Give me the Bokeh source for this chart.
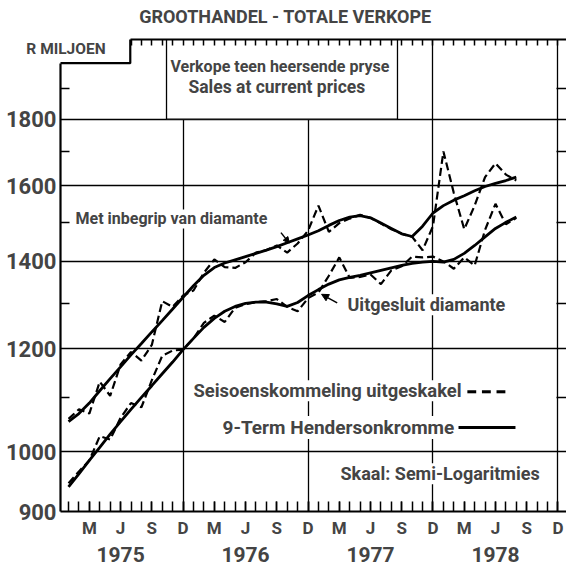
from bokeh.plotting import figure
from bokeh.models import (FixedTicker, LinearAxis, LogAxis, CustomJSTickFormatter, BasicTickFormatter,
                          Label, BoxAnnotation, Arrow, NormalHead, Range1d)
from bokeh.embed import file_html
from bokeh.resources import INLINE

# month index 0 = Jan 1975 ... 43 = Aug 1978
months = list(range(44))
upper_adj = [1060, 1078, 1070, 1132, 1104, 1167, 1193, 1175, 1208, 1305, 1292, 1318,
             1330, 1372, 1405, 1386, 1384, 1398, 1422, 1428, 1440, 1422, 1445, 1478,
             1545, 1475, 1498, 1510, 1520, 1512, 1497, 1482, 1470, 1462, 1428, 1490,
             1700, 1580, 1482, 1545, 1625, 1665, 1632, 1615]
upper_trend = [1055, 1070, 1090, 1114, 1138, 1162, 1187, 1211, 1236, 1261, 1287, 1314,
               1341, 1366, 1385, 1396, 1404, 1412, 1420, 1428, 1437, 1447, 1457, 1467,
               1478, 1492, 1505, 1514, 1518, 1512, 1498, 1484, 1470, 1463, 1490, 1525,
               1545, 1560, 1572, 1586, 1598, 1607, 1615, 1625]
lower_adj = [946, 966, 985, 1028, 1022, 1062, 1090, 1082, 1135, 1185, 1196, 1198,
             1222, 1256, 1272, 1258, 1290, 1298, 1303, 1305, 1310, 1292, 1282, 1312,
             1325, 1365, 1410, 1360, 1362, 1368, 1345, 1378, 1388, 1412, 1410, 1412,
             1400, 1382, 1410, 1390, 1480, 1550, 1495, 1512]
lower_trend = [940, 962, 985, 1008, 1032, 1055, 1078, 1101, 1124, 1148, 1172, 1198,
               1222, 1246, 1266, 1282, 1293, 1300, 1303, 1303, 1299, 1293, 1302, 1318,
               1332, 1345, 1355, 1361, 1366, 1372, 1378, 1384, 1390, 1395, 1398, 1400,
               1398, 1405, 1420, 1440, 1462, 1484, 1500, 1514]

month_letters = ["M", "J", "S", "D"]   # Maart, Junie, September, Desember
quarter_months = [2, 5, 8, 11]
years = ["1975", "1976", "1977", "1978"]
y_major = [900, 1000, 1200, 1400, 1600, 1800]
y_minor = [1100, 1300, 1500, 1700, 1900]
y_grid = [1000, 1200, 1400, 1600, 1800]

FONT = "Roboto"
X0, X1 = -0.77, 47.82
Y0, Y1 = 900, 2072
NOTCH_X, NOTCH_Y = 5.93, 1987

all_month_ticks = list(range(48))
top_month_ticks = [m for m in all_month_ticks if m > NOTCH_X]
quarter_ticks = [12 * k + q for k in range(4) for q in quarter_months]
dec_ticks = [12 * k + 11 for k in range(4)]
june_ticks = [12 * k + 5 for k in range(4)]

p = figure(width=566, height=565, y_axis_type="log",
           x_range=Range1d(X0, X1), y_range=Range1d(Y0, Y1),
           output_backend="svg", toolbar_location=None,
           min_border_left=60, min_border_right=0, min_border_top=38, min_border_bottom=54)
p.outline_line_color = None
p.background_fill_color = "white"

empty = CustomJSTickFormatter(code='return "";')

# --- axes ---
ya = p.yaxis[0]
ya.ticker = FixedTicker(ticks=y_major, minor_ticks=y_minor)
ya.formatter = BasicTickFormatter(use_scientific=False)
ya.bounds = (Y0, NOTCH_Y)
ya.major_tick_in = 0
ya.major_tick_out = 0
ya.minor_tick_in = 9
ya.minor_tick_out = 0
ya.minor_tick_line_width = 1.5
ya.axis_line_width = 2.2
ya.major_label_text_font = FONT
ya.major_label_text_font_style = "bold"
ya.major_label_text_font_size = "22px"
ya.major_label_standoff = 4

right = LogAxis(ticker=FixedTicker(ticks=[], minor_ticks=y_minor), formatter=empty,
                axis_line_color=None, major_tick_in=0, major_tick_out=0,
                minor_tick_in=10, minor_tick_out=0, minor_tick_line_width=1.5,
                major_label_standoff=0)
p.add_layout(right, "right")

xa = p.xaxis[0]
xa.ticker = FixedTicker(ticks=quarter_ticks, minor_ticks=all_month_ticks)
xa.formatter = CustomJSTickFormatter(args=dict(labels=month_letters, q=quarter_months), code="""
    const k = Math.round(tick) % 12;
    const i = q.indexOf(k);
    return i >= 0 ? labels[i] : "";
""")
xa.major_tick_in = 10
xa.major_tick_out = 0
xa.minor_tick_in = 10
xa.minor_tick_out = 0
xa.major_tick_line_width = 1.5
xa.minor_tick_line_width = 1.5
xa.axis_line_width = 2.2
xa.major_label_text_font = FONT
xa.major_label_text_font_style = "bold"
xa.major_label_text_font_size = "17px"
xa.major_label_standoff = 6

year_axis = LinearAxis(ticker=FixedTicker(ticks=june_ticks),
                       formatter=CustomJSTickFormatter(args=dict(years=years), code="""
    return years[Math.floor(Math.round(tick) / 12)] || "";
"""),
                       axis_line_color=None, major_tick_line_color=None, minor_tick_line_color=None,
                       major_label_standoff=0, major_label_text_font=FONT,
                       major_label_text_font_style="bold", major_label_text_font_size="21px")
p.add_layout(year_axis, "below")

top = LinearAxis(ticker=FixedTicker(ticks=top_month_ticks), bounds=(NOTCH_X, X1),
                 major_tick_in=6, major_tick_out=0, minor_tick_in=0, minor_tick_out=0,
                 axis_line_width=2.2, major_tick_line_width=1.5, major_label_standoff=0,
                 formatter=empty)
p.add_layout(top, "above")

# --- grid ---
p.ygrid.ticker = FixedTicker(ticks=y_grid)
p.xgrid.ticker = FixedTicker(ticks=dec_ticks)
for g in (p.xgrid[0], p.ygrid[0]):
    g.grid_line_color = "black"
    g.grid_line_width = 1.3
    g.grid_line_alpha = 1.0

# --- notch at the top-left corner of the frame ---
p.add_layout(BoxAnnotation(left=-20, right=NOTCH_X, bottom=NOTCH_Y, top=5000,
                           fill_color="white", fill_alpha=1.0,
                           line_color="black", line_alpha=1.0, line_width=2.2, level="underlay"))
# --- box round the heading "Verkope teen heersende pryse" ---
p.add_layout(BoxAnnotation(left=9.41, right=31.59, bottom=1800, top=5000,
                           fill_color="white", fill_alpha=1.0,
                           line_color="black", line_alpha=1.0, line_width=1.3, level="underlay"))

# --- data ---
p.line(months, upper_trend, line_color="black", line_width=2.8)
p.line(months, lower_trend, line_color="black", line_width=2.8)
p.line(months, upper_adj, line_color="black", line_width=2.2, line_dash="8 4")
p.line(months, lower_adj, line_color="black", line_width=2.2, line_dash="8 4")

def lab(text, x, y, size, align="left", bg=True, place="center"):
    kw = dict(x=x, y=y, text=text, text_font=FONT, text_font_style="bold",
              text_font_size=size, text_align=align, text_baseline="middle", level="overlay")
    if bg:
        kw.update(background_fill_color="white", background_fill_alpha=1.0)
    l = Label(**kw)
    p.add_layout(l, place)
    return l

def sample_bar(x_left, x_right, y_mid):
    half = 1.0027  # about 1.5 px on this log scale
    p.add_layout(BoxAnnotation(left=x_left, right=x_right, bottom=y_mid / half, top=y_mid * half,
                               fill_color="black", fill_alpha=1.0, line_color=None, level="overlay"))

lab("GROOTHANDEL - TOTALE VERKOPE", 20.83, 2158, "18px", align="center", bg=False, place="above")
lab("R MILJOEN", -4.05, 2036, "15.5px", bg=False, place="above")
lab("Verkope teen heersende pryse", 9.79, 1975, "16px", bg=False)
lab("Sales at current prices", 11.52, 1905, "17.5px", bg=False)
lab("Met inbegrip van diamante", 0.67, 1509, "16px")
lab("Uitgesluit diamante", 26.79, 1297, "18px")
lab("Seisoenskommeling uitgeskakel", 12.0, 1114, "18.4px")
for a, b in [(38.3, 39.15), (39.7, 40.55), (41.1, 41.95)]:
    sample_bar(a, b, 1112)
lab("9-Term Hendersonkromme", 14.79, 1044, "19px")
sample_bar(37.45, 42.92, 1044)
lab("Skaal: Semi-Logaritmies", 26.12, 962, "18px")

p.add_layout(Arrow(end=NormalHead(size=7, fill_color="black", line_color="black"),
                   x_start=25.8, y_start=1301, x_end=24.3, y_end=1321,
                   line_color="black", line_width=1.5))
p.add_layout(Arrow(end=NormalHead(size=6, fill_color="black", line_color="black"),
                   x_start=20.4, y_start=1473, x_end=21.2, y_end=1446,
                   line_color="black", line_width=1.5))

open("out.html", "w").write(file_html(p, INLINE))
